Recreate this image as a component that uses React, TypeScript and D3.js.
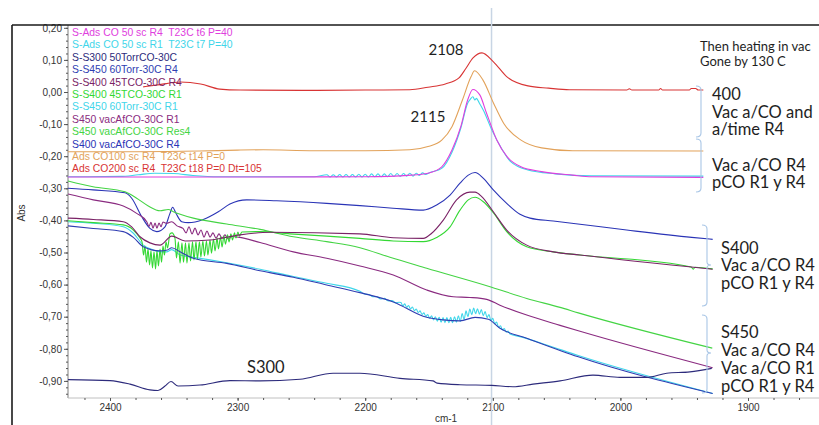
import { useEffect, useRef } from "react";
import * as d3 from "d3";

type Pt = [number, number];

// wavenumber ticks (cm-1) and absorbance ticks
const xTicks = [2400, 2300, 2200, 2100, 2000, 1900];
const yTicks = [0.2, 0.1, 0, -0.1, -0.2, -0.3, -0.4, -0.5, -0.6, -0.7, -0.8, -0.9];

// each series: [wavenumber, abs]
const adsCO200R4: Pt[] = [
  [2374, 0.016], [2361, 0.023], [2345, 0.031], [2329, 0.025], [2314, 0.009], [2298, 0.006],
  [2250, 0.005], [2200, 0.006], [2165, 0.007], [2150.8, 0.015], [2137.2, 0.025], [2126.5, 0.044],
  [2121, 0.074], [2115.5, 0.106], [2108.5, 0.122], [2099.5, 0.094], [2088.9, 0.047], [2072.4, 0.019],
  [2056.3, 0.012], [2040, 0.007], [1995, 0.006], [1993, 0.010], [1991, 0.006], [1970, 0.006],
  [1968.5, 0.011], [1967, 0.006], [1946, 0.006], [1944.5, 0.011], [1941, 0.011], [1939, 0.006], [1935, 0.006],
];

const adsCO100R4: Pt[] = [
  [2433, -0.186], [2380, -0.186], [2330, -0.184], [2300, -0.181], [2280, -0.180], [2240, -0.183],
  [2200, -0.183], [2165, -0.180], [2150.8, -0.170], [2140, -0.150], [2132, -0.108], [2123.8, -0.025],
  [2117, 0.048], [2114.3, 0.066], [2107.7, 0.037], [2099.5, -0.034], [2091.4, -0.098], [2077.9, -0.150],
  [2061.7, -0.174], [2037.4, -0.183], [1935, -0.184],
];

const sAdsR4: Pt[] = [
  [2433, -0.265], [2300, -0.265], [2200, -0.264], [2164, -0.259], [2150.8, -0.253], [2140, -0.233],
  [2132, -0.181], [2125.1, -0.108], [2119.7, -0.025], [2115.6, 0.008], [2110.2, -0.009], [2104.9, -0.066],
  [2096.8, -0.150], [2088.7, -0.202], [2078, -0.233], [2061.7, -0.248], [2037.4, -0.259], [2022.6, -0.264],
  [1935, -0.266],
];

const sAdsR1: Pt[] = [
  [2433, -0.264], [2392, -0.263], [2378, -0.258], [2365, -0.253], [2350, -0.254], [2335, -0.260],
  [2315, -0.264], [2240, -0.264],
  [2230, -0.258], [2227.5, -0.265], [2225, -0.258], [2222.5, -0.265], [2220, -0.257], [2217.5, -0.265],
  [2215, -0.257], [2212.5, -0.265], [2210, -0.257], [2207.5, -0.265], [2205, -0.256], [2202.5, -0.265],
  [2200, -0.256], [2197.5, -0.265], [2195, -0.255], [2192.5, -0.264], [2190, -0.255], [2187.5, -0.264],
  [2185, -0.255], [2182.5, -0.264], [2180, -0.254], [2177.5, -0.263], [2175, -0.254], [2172.5, -0.263],
  [2170, -0.254], [2167.5, -0.262], [2165, -0.253], [2162.5, -0.262], [2160, -0.253], [2157.5, -0.260],
  [2155, -0.252], [2152.5, -0.257], [2150, -0.252],
  [2140, -0.238], [2131.8, -0.186], [2125.1, -0.113], [2119.7, -0.035], [2117.5, -0.022], [2115.6, -0.015],
  [2114, -0.025], [2112.9, -0.020], [2110.5, -0.035], [2107.5, -0.056], [2100.8, -0.118], [2094, -0.170],
  [2086, -0.217], [2072.5, -0.243], [2051.1, -0.255], [2022.6, -0.261], [1935, -0.262],
];

const sS300: Pt[] = [
  [2432.9, -0.896], [2400, -0.899], [2384.3, -0.910], [2368.7, -0.928], [2362.4, -0.930], [2356.9, -0.916],
  [2352.2, -0.902], [2346.7, -0.916], [2329.5, -0.913], [2306, -0.899], [2282.4, -0.900], [2251.1, -0.895],
  [2225.2, -0.876], [2204.1, -0.876], [2172.7, -0.892], [2146.9, -0.900], [2143.7, -0.907], [2125.7, -0.912],
  [2100.9, -0.914], [2084.2, -0.918], [2068.5, -0.910], [2047.3, -0.900], [2021.5, -0.882], [2000.3, -0.889],
  [1979.4, -0.889], [1963.7, -0.876], [1945.5, -0.872], [1928.4, -0.861],
];

const sS450R4: Pt[] = [
  [2432.9, -0.417], [2413.1, -0.425], [2389.6, -0.435], [2381.7, -0.453], [2373.9, -0.482], [2360.8, -0.495],
  [2355, -0.492], [2351.6, -0.485], [2345.1, -0.498], [2334.7, -0.518], [2308.5, -0.534], [2282.4, -0.557],
  [2256.3, -0.577], [2230.2, -0.601], [2204.1, -0.625], [2178, -0.654], [2151.8, -0.702], [2138.9, -0.710],
  [2125.7, -0.713], [2113.9, -0.702], [2103.5, -0.708], [2094.4, -0.736], [2073.4, -0.767], [2033, -0.825],
  [1927.7, -0.939],
];

const sS400R4: Pt[] = [
  [2432.9, -0.393], [2413.1, -0.397], [2389.6, -0.404], [2383, -0.420], [2376.5, -0.451], [2368.7, -0.470],
  [2360.8, -0.477], [2351.6, -0.449], [2341.2, -0.464], [2321.6, -0.461], [2298.1, -0.445], [2274.6, -0.437],
  [2204.1, -0.442], [2178, -0.454], [2154.5, -0.456], [2147.9, -0.440], [2138.8, -0.399], [2128.4, -0.336],
  [2117.9, -0.312], [2113.9, -0.312], [2108.7, -0.326], [2099.6, -0.373], [2089.1, -0.430], [2073.4, -0.477],
  [2052.6, -0.498], [2031.7, -0.508], [1927.7, -0.552],
];

const sS400R1: Pt[] = [
  [2432.9, -0.401], [2413.1, -0.407], [2389.6, -0.414], [2381.7, -0.430], [2376.5, -0.455],
  [2374.9, -0.467], [2373.7, -0.508], [2372.6, -0.480], [2371.4, -0.530], [2370.2, -0.489], [2369.0, -0.539],
  [2367.9, -0.495], [2366.7, -0.548], [2365.5, -0.498], [2364.3, -0.551], [2363.2, -0.495], [2362.0, -0.542],
  [2360.8, -0.489], [2359.6, -0.530], [2358.5, -0.480], [2357.3, -0.508], [2356.1, -0.467], [2354.9, -0.486],
  [2353.0, -0.442], [2351.4, -0.439],
  [2349.1, -0.455], [2347.9, -0.517], [2346.4, -0.467], [2345.1, -0.533], [2343.6, -0.470], [2342.4, -0.530],
  [2340.8, -0.470], [2339.7, -0.533], [2338.1, -0.470], [2336.9, -0.526], [2335.3, -0.467], [2334.2, -0.523],
  [2332.6, -0.467], [2331.5, -0.520], [2329.9, -0.467], [2328.8, -0.514], [2327.2, -0.464], [2326.0, -0.511],
  [2324.4, -0.464], [2323.3, -0.508], [2321.6, -0.461], [2320.5, -0.502], [2318.9, -0.458], [2317.7, -0.495],
  [2316.1, -0.455], [2315.0, -0.489], [2313.4, -0.452], [2312.2, -0.483], [2310.7, -0.449], [2309.5, -0.474],
  [2307.9, -0.445], [2306.7, -0.467], [2305.2, -0.442], [2304.0, -0.461], [2302.4, -0.439], [2301.3, -0.455],
  [2299.7, -0.436], [2298.6, -0.449], [2296.6, -0.436],
  [2282.4, -0.435], [2259, -0.442], [2230.2, -0.449], [2204.1, -0.456], [2178, -0.464], [2154.5, -0.466],
  [2144, -0.453], [2133.5, -0.420], [2125.7, -0.368], [2119.2, -0.336], [2113.9, -0.328], [2107.4, -0.342],
  [2099.6, -0.376], [2089.1, -0.435], [2073.4, -0.482], [2052.6, -0.498], [2031.7, -0.508], [1944.5, -0.545],
  [1943, -0.552], [1941.5, -0.546], [1927.7, -0.551],
];

const sS450R1: Pt[] = [
  [2432.9, -0.404], [2413.1, -0.409], [2389.6, -0.420], [2381.7, -0.440], [2373.9, -0.477], [2366.1, -0.492],
  [2360.8, -0.498], [2355.6, -0.498], [2351.6, -0.491], [2345.1, -0.508], [2334.7, -0.515], [2321.6, -0.523],
  [2308.5, -0.532], [2282.4, -0.552], [2256.3, -0.575], [2230.2, -0.596], [2204.1, -0.621],
  [2200, -0.630], [2197, -0.631], [2194, -0.638], [2191, -0.637], [2188, -0.645], [2185, -0.643],
  [2182, -0.651], [2179, -0.650], [2176, -0.657], [2173.5, -0.655],
  [2172, -0.656], [2170.5, -0.666], [2169, -0.660], [2167.5, -0.671], [2166, -0.665], [2164.5, -0.676],
  [2163, -0.670], [2161.5, -0.681], [2160, -0.676], [2158.5, -0.687], [2157, -0.682], [2155.5, -0.693],
  [2154, -0.688], [2152.5, -0.699], [2151, -0.693], [2149.5, -0.705], [2148, -0.697], [2146.5, -0.710],
  [2145, -0.700], [2143.5, -0.714], [2142, -0.702], [2140.5, -0.717], [2139, -0.703], [2137.5, -0.719],
  [2136, -0.703], [2134.5, -0.719], [2133, -0.702], [2131.5, -0.719], [2130, -0.700], [2128.5, -0.717],
  [2127, -0.697], [2125.5, -0.715], [2124, -0.690], [2122.5, -0.709], [2121, -0.682], [2119.5, -0.700],
  [2118, -0.676], [2116.5, -0.694], [2115, -0.673], [2113.5, -0.691], [2112, -0.675], [2110.5, -0.692],
  [2109, -0.678], [2107.5, -0.697], [2106, -0.684], [2104.5, -0.703], [2103, -0.693], [2101.5, -0.712],
  [2100, -0.705], [2098.5, -0.722], [2097, -0.717], [2095.5, -0.733], [2094, -0.728], [2092.5, -0.741],
  [2091, -0.737], [2089.5, -0.748], [2088, -0.745], [2086.5, -0.754],
  [2078.7, -0.762], [2057.8, -0.788], [2033, -0.821], [1927.7, -0.939],
];

const s450VacR1: Pt[] = [
  [2432.9, -0.318], [2413.1, -0.336], [2389.6, -0.355], [2379.1, -0.378], [2371.2, -0.404], [2369.4, -0.419],
  [2367.9, -0.406], [2366.3, -0.424], [2364.7, -0.408], [2363.2, -0.424], [2361.6, -0.408], [2360.0, -0.420],
  [2358.5, -0.405], [2355.6, -0.409], [2351.7, -0.404], [2347.5, -0.417], [2342.8, -0.425], [2340.4, -0.439],
  [2338.1, -0.420], [2335.7, -0.442], [2333.4, -0.424], [2331.0, -0.445], [2328.7, -0.430], [2326.3, -0.452],
  [2324.0, -0.433], [2321.6, -0.452], [2319.3, -0.439], [2316.9, -0.455], [2314.6, -0.442], [2312.2, -0.455],
  [2309.9, -0.445], [2307.5, -0.458], [2304.4, -0.450], [2298.1, -0.453], [2282.4, -0.469], [2256.3, -0.498],
  [2230.2, -0.518], [2204.1, -0.542], [2178, -0.570], [2151.8, -0.617], [2131, -0.638], [2117.9, -0.640],
  [2104.8, -0.646], [2094.4, -0.664], [2073.4, -0.695], [2047.3, -0.727], [2033, -0.744], [1927.7, -0.859],
];

const s450VacRes4: Pt[] = [
  [2432.9, -0.277], [2413.3, -0.295], [2388.2, -0.311], [2379.1, -0.331], [2370, -0.355], [2360.8, -0.370],
  [2354.3, -0.366], [2350.4, -0.373], [2334.7, -0.393], [2308.5, -0.411], [2282.4, -0.428], [2256.3, -0.451],
  [2230.2, -0.466], [2204.1, -0.485], [2180.6, -0.515], [2151.8, -0.549], [2100.9, -0.608], [2073.4, -0.643],
  [2047.3, -0.671], [2033, -0.688], [1928, -0.798],
];

const s400VacR4: Pt[] = [
  [2432.9, -0.300], [2413.3, -0.305], [2388.2, -0.314], [2383, -0.331], [2375.2, -0.388], [2368.7, -0.425],
  [2363.4, -0.435], [2356.9, -0.420], [2353, -0.378], [2350.9, -0.359], [2348.3, -0.378], [2343.8, -0.404],
  [2338.6, -0.407], [2326.9, -0.397], [2315.1, -0.373], [2306, -0.349], [2292.9, -0.336], [2269.4, -0.339],
  [2230.2, -0.347], [2204.1, -0.354], [2178.2, -0.362], [2154.5, -0.368], [2144, -0.352], [2133.5, -0.321],
  [2125.7, -0.284], [2119.2, -0.259], [2113.9, -0.251], [2107.4, -0.269], [2099.6, -0.305], [2089.1, -0.347],
  [2078.7, -0.381], [2070.8, -0.393], [2052.6, -0.402], [2031.7, -0.412], [1995.1, -0.430], [1944.1, -0.453],
  [1927.7, -0.459],
];

const series = [
  { label: "S-Ads CO 50 sc R4  T23C t6 P=40", color: "#e03ede", data: sAdsR4 },
  { label: "S-Ads CO 50 sc R1  T23C t7 P=40", color: "#3fd6ea", data: sAdsR1 },
  { label: "S-S300 50TorrCO-30C", color: "#2d2b7c", data: sS300 },
  { label: "S-S450 60Torr-30C R4", color: "#2f3db2", data: sS450R4 },
  { label: "S-S400 45TCO-30C R4", color: "#7a2266", data: sS400R4 },
  { label: "S-S400 45TCO-30C R1", color: "#34d834", data: sS400R1 },
  { label: "S-S450 60Torr-30C R1", color: "#3fd6ea", data: sS450R1 },
  { label: "S450 vacAfCO-30C R1", color: "#8a2b80", data: s450VacR1 },
  { label: "S450 vacAfCO-30C Res4", color: "#44d444", data: s450VacRes4 },
  { label: "S400 vacAfCO-30C R4", color: "#2a34b6", data: s400VacR4 },
  { label: "Ads CO100 sc R4  T23C t14 P=0", color: "#e2a25a", data: adsCO100R4 },
  { label: "Ads CO200 sc R4  T23C t18 P=0 Dt=105", color: "#d83434", data: adsCO200R4 },
];

const notes = [
  { text: "2108", x: 446, y: 55, size: 15, anchor: "middle" },
  { text: "2115", x: 428, y: 122, size: 15, anchor: "middle" },
  { text: "Then heating in vac", x: 700, y: 51, size: 13, anchor: "start" },
  { text: "Gone by 130 C", x: 700, y: 66, size: 13, anchor: "start" },
  { text: "400", x: 712, y: 100, size: 16.5, anchor: "start" },
  { text: "Vac a/CO and", x: 712, y: 117.5, size: 16.5, anchor: "start" },
  { text: "a/time R4", x: 712, y: 135, size: 16.5, anchor: "start" },
  { text: "Vac a/CO R4", x: 712, y: 170.5, size: 16.5, anchor: "start" },
  { text: "pCO R1 y R4", x: 712, y: 188, size: 16.5, anchor: "start" },
  { text: "S400", x: 721, y: 253.5, size: 16.5, anchor: "start" },
  { text: "Vac a/CO R4", x: 721, y: 271, size: 16.5, anchor: "start" },
  { text: "pCO R1 y R4", x: 721, y: 289, size: 16.5, anchor: "start" },
  { text: "S450", x: 721, y: 337.5, size: 16.5, anchor: "start" },
  { text: "Vac a/CO R4", x: 721, y: 355.5, size: 16.5, anchor: "start" },
  { text: "Vac a/CO R1", x: 721, y: 373.5, size: 16.5, anchor: "start" },
  { text: "pCO R1 y R4", x: 721, y: 391.5, size: 16.5, anchor: "start" },
  { text: "S300", x: 247, y: 372.5, size: 16.5, anchor: "start" },
];

export default function App() {
  const ref = useRef<SVGSVGElement>(null);

  useEffect(() => {
    const svg = d3.select(ref.current);
    svg.selectAll("*").remove();

    const x = d3.scaleLinear().domain([2400, 1900]).range([110, 748]);
    const y = d3.scaleLinear().domain([0, -0.9]).range([92, 380.9]);
    const left = 68, top = 25, bottom = 398, right = 819;

    svg.append("rect").attr("width", 819).attr("height", 425).attr("fill", "#fff");

    // axis lines
    svg.append("line").attr("x1", left).attr("x2", left).attr("y1", top).attr("y2", bottom)
      .attr("stroke", "#a8a8a8").attr("stroke-width", 1.5);
    svg.append("line").attr("x1", left).attr("x2", right).attr("y1", bottom).attr("y2", bottom)
      .attr("stroke", "#c0c0c0").attr("stroke-width", 1);

    const fmt = (d: number) => d3.format(".2f")(d).replace("\u2212", "-").replace(".", ",");

    const yMinor = svg.append("g").attr("transform", `translate(${left},0)`)
      .call(d3.axisLeft(y).tickValues(d3.range(-0.94, 0.205, 0.02)).tickSize(2).tickFormat(() => ""));
    const yMajor = svg.append("g").attr("transform", `translate(${left},0)`)
      .call(d3.axisLeft(y).tickValues(yTicks).tickSize(4).tickPadding(2).tickFormat((d) => fmt(d as number)));
    const xMinor = svg.append("g").attr("transform", `translate(0,${bottom})`)
      .call(d3.axisBottom(x).tickValues(d3.range(2420, 1845, -20)).tickSize(2).tickFormat(() => ""));
    const xMajor = svg.append("g").attr("transform", `translate(0,${bottom})`)
      .call(d3.axisBottom(x).tickValues(xTicks).tickSize(3).tickPadding(3).tickFormat((d) => String(d)));

    [yMinor, yMajor, xMinor, xMajor].forEach((g) => {
      g.select(".domain").remove();
      g.selectAll("line").attr("stroke", "#555");
      g.selectAll("text").attr("fill", "#333").style("font-family", "Liberation Sans, Arial, sans-serif").style("font-size", "10px");
    });

    // frame
    svg.append("line").attr("x1", 12).attr("x2", 819).attr("y1", 25).attr("y2", 25)
      .attr("stroke", "#1a1a1a").attr("stroke-width", 1.6);
    svg.append("line").attr("x1", 12).attr("x2", 12).attr("y1", 25).attr("y2", 425)
      .attr("stroke", "#1a1a1a").attr("stroke-width", 1.6);

    // cursor
    svg.append("line").attr("x1", x(2101)).attr("x2", x(2101)).attr("y1", 8).attr("y2", 425)
      .attr("stroke", "#c8d5e4").attr("stroke-width", 1.5);

    // axis titles
    svg.append("text").attr("transform", "translate(25,213) rotate(-90)").attr("text-anchor", "middle")
      .style("font-family", "Liberation Sans, Arial, sans-serif").style("font-size", "10px").attr("fill", "#333").text("Abs");
    svg.append("text").attr("x", 446).attr("y", 422).attr("text-anchor", "middle")
      .style("font-family", "Liberation Sans, Arial, sans-serif").style("font-size", "10px").attr("fill", "#333").text("cm-1");

    // spectra
    const path = d3.line<Pt>().x((d) => x(d[0])).y((d) => y(d[1])).curve(d3.curveMonotoneX);
    series.slice().reverse().forEach((s) => {
      const pts = s.data.slice().sort((a, b) => b[0] - a[0]);
      svg.append("path").attr("d", path(pts)).attr("fill", "none")
        .attr("stroke", s.color).attr("stroke-width", 1.1);
    });

    // legend
    series.forEach((s, i) => {
      svg.append("text").attr("x", 72).attr("y", 36 + i * 12.4).attr("fill", s.color)
        .style("font-family", "Liberation Sans, Arial, sans-serif").style("font-size", "10.4px")
        .attr("xml:space", "preserve").text(s.label);
    });

    // brackets
    const brk = "#a9c6e6";
    const square = (bx: number, y1: number, y2: number) =>
      `M${bx - 5},${y1} Q${bx},${y1} ${bx},${y1 + 4} L${bx},${y2 - 4} Q${bx},${y2} ${bx - 5},${y2}`;
    const curly = (bx: number, y1: number, ym: number, y2: number) =>
      `M${bx - 5},${y1} Q${bx},${y1} ${bx},${y1 + 4} L${bx},${ym - 3} Q${bx},${ym} ${bx + 4},${ym} Q${bx},${ym} ${bx},${ym + 3} L${bx},${y2 - 4} Q${bx},${y2} ${bx - 5},${y2}`;
    [square(701, 86, 137), square(701, 139, 192), curly(707, 225, 265, 306), curly(707, 315, 353, 393)]
      .forEach((d) => svg.append("path").attr("d", d).attr("fill", "none").attr("stroke", brk).attr("stroke-width", 1.1));

    notes.forEach((n) => {
      svg.append("text").attr("x", n.x).attr("y", n.y).attr("text-anchor", n.anchor)
        .style("font-family", "Lato, 'Open Sans', sans-serif").style("font-size", `${n.size}px`)
        .attr("fill", "#1e1e1e").text(n.text);
    });
  }, []);

  return (
    <svg ref={ref} width={819} height={425}
      style={{ position: "absolute", left: 0, top: 0, display: "block" }} />
  );
}
